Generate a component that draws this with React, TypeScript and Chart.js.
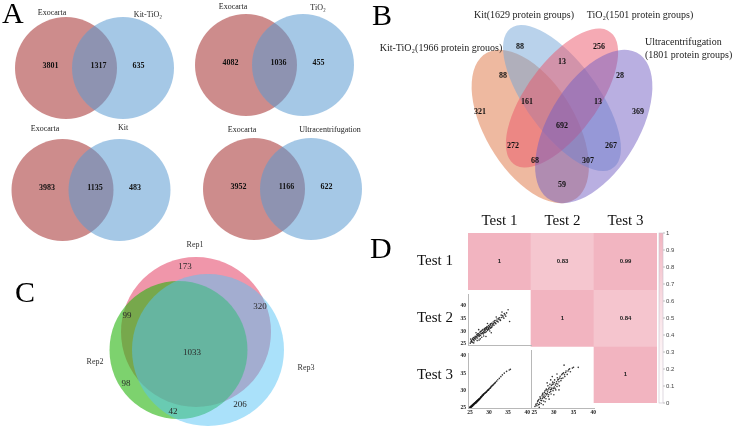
import React, { useEffect, useRef } from "react";
import { Chart, registerables } from "chart.js";

Chart.register(...registerables);

/* ======================= DATA ======================= */
// A — each method compared with Exocarta
const pairLeftNames = ["Exocarta", "Exocarta", "Exocarta", "Exocarta"];
const pairRightNames = ["Kit-TiO₂", "TiO₂", "Kit", "Ultracentrifugation"];
const pairLeftOnly = [3801, 4082, 3983, 3952];
const pairShared = [1317, 1036, 1135, 1166];
const pairRightOnly = [635, 455, 483, 622];

// B — four isolation methods
const quadSetNames = [
  "Kit-TiO₂(1966 protein grouos)",
  "Kit(1629 protein groups)",
  "TiO₂(1501 protein groups)",
  "Ultracentrifugation\n(1801 protein groups)",
];
const quadRegions = ["A", "B", "C", "D", "AB", "BC", "CD", "AD", "AC", "BD", "ABC", "BCD", "ACD", "ABD", "ABCD"];
const quadCounts = [321, 88, 256, 369, 88, 13, 28, 59, 272, 267, 161, 13, 68, 307, 692];

// C — replicates
const repSetNames = ["Rep1", "Rep2", "Rep3"];
const repRegions = ["1", "12", "13", "123", "2", "23", "3"];
const repCounts = [173, 99, 320, 1033, 98, 42, 206];

// D — correlation between tests
const testNames = ["Test 1", "Test 2", "Test 3"];
const corrTest1 = [1, 0.83, 0.99];
const corrTest2 = [0.83, 1, 0.84];
const corrTest3 = [0.99, 0.84, 1];
const colorbarTicks = [0, 0.1, 0.2, 0.3, 0.4, 0.5, 0.6, 0.7, 0.8, 0.9, 1];
const scatterTicks = [25, 30, 35, 40];

// [Test 1, Test 2]
const test1VsTest2 = [
  [25.1, 25.3], [25.3, 25.9], [25.4, 26.4], [25.6, 25.6], [25.8, 26.8], [25.9, 27.5], [26.1, 26.2], [26.2, 27.1], [26.4, 28.0], [26.5, 26.9],
  [26.7, 27.8], [26.8, 28.6], [27.0, 27.3], [27.1, 28.3], [27.2, 29.1], [27.4, 27.9], [27.5, 28.8], [27.6, 29.6], [27.8, 28.4], [27.9, 29.2],
  [28.0, 30.1], [28.1, 27.6], [28.3, 29.5], [28.4, 30.6], [28.5, 28.9], [28.7, 30.0], [28.8, 31.0], [28.9, 29.4], [29.0, 30.4], [29.1, 31.3],
  [29.3, 29.8], [29.4, 30.9], [29.5, 31.8], [29.6, 30.3], [29.8, 31.4], [29.9, 32.2], [30.0, 30.8], [30.1, 31.9], [30.3, 32.6], [30.4, 31.2],
  [30.5, 32.3], [30.7, 33.1], [30.8, 31.7], [31.0, 32.8], [31.1, 33.6], [31.3, 32.3], [31.5, 33.4], [31.6, 34.2], [31.8, 32.9], [32.0, 34.0],
  [32.1, 34.8], [32.4, 33.6], [32.6, 34.6], [32.8, 35.3], [33.0, 34.2], [33.3, 35.4], [33.6, 36.1], [33.9, 35.1], [34.2, 36.4], [34.6, 37.2],
  [35.0, 38.4], [35.4, 33.8], [29.2, 27.9], [30.6, 29.4], [27.3, 30.6], [26.0, 25.4], [26.9, 26.3], [27.7, 27.0], [31.9, 35.6], [33.4, 37.5],
  [25.5, 26.0], [25.7, 27.0], [26.0, 26.6], [26.3, 27.6], [26.6, 27.4], [26.9, 28.1], [27.0, 28.9], [27.3, 28.5], [27.6, 28.2], [27.8, 29.9],
  [28.0, 29.0], [28.2, 30.4], [28.4, 29.2], [28.6, 29.7], [28.8, 30.5], [29.0, 29.6], [29.2, 30.8], [29.4, 31.5], [29.7, 30.6], [29.9, 31.0],
  [30.2, 31.6], [30.4, 32.9], [30.6, 31.5], [30.9, 32.4], [31.2, 32.9], [31.4, 34.0], [31.7, 33.2], [32.2, 33.9], [32.5, 35.1], [32.9, 34.5],
  [33.2, 36.3], [33.7, 35.6], [34.0, 36.9], [34.4, 35.9], [27.4, 26.5], [28.6, 28.1], [30.2, 30.1], [25.2, 26.9], [26.6, 29.4], [29.6, 33.0],
];
// [Test 1, Test 3]
const test1VsTest3 = [
  [25.0, 25.1], [25.1, 25.0], [25.2, 25.4], [25.2, 25.0], [25.3, 25.2], [25.4, 25.6], [25.5, 25.4], [25.6, 25.8], [25.6, 25.5], [25.7, 25.6],
  [25.8, 26.0], [25.9, 25.9], [26.0, 26.2], [26.1, 26.0], [26.1, 26.3], [26.2, 26.4], [26.3, 26.3], [26.4, 26.6], [26.5, 26.5], [26.6, 26.8],
  [26.6, 26.4], [26.7, 26.7], [26.8, 27.0], [26.9, 26.9], [27.0, 27.2], [27.0, 26.9], [27.1, 27.1], [27.2, 27.4], [27.3, 27.3], [27.4, 27.6],
  [27.5, 27.5], [27.5, 27.7], [27.6, 27.8], [27.7, 27.8], [27.8, 28.1], [27.9, 28.0], [28.0, 28.3], [28.2, 28.4], [28.3, 28.7], [28.5, 28.7],
  [28.6, 29.0], [28.8, 29.1], [29.0, 29.3], [29.2, 29.6], [29.4, 29.7], [29.6, 30.0], [29.8, 30.2], [30.0, 30.4], [30.3, 30.7], [30.5, 31.0],
  [30.8, 31.3], [31.1, 31.6], [31.4, 32.0], [31.7, 32.4], [32.0, 32.7], [32.3, 33.1], [32.7, 33.5], [33.1, 34.0], [33.5, 34.5], [34.0, 35.0],
  [34.6, 35.5], [35.3, 35.9], [35.6, 36.1],
  [25.0, 25.3], [25.1, 25.2], [25.3, 25.5], [25.4, 25.3], [25.5, 25.7], [25.7, 25.9], [25.8, 25.7], [25.9, 26.1], [26.0, 25.9], [26.2, 26.2],
  [26.3, 26.5], [26.4, 26.3], [26.5, 26.7], [26.7, 26.9], [26.8, 26.7], [26.9, 27.1], [27.1, 27.3], [27.2, 27.2], [27.3, 27.5], [27.4, 27.4],
  [27.6, 27.6], [27.8, 27.9], [27.9, 28.2], [28.1, 28.2], [28.2, 28.6], [28.4, 28.6], [28.5, 28.9], [28.7, 29.0], [28.9, 29.3], [29.1, 29.4],
  [29.3, 29.5], [29.5, 29.9], [29.7, 30.1], [29.9, 30.2], [30.1, 30.6], [30.4, 30.8], [30.6, 31.2], [30.9, 31.5], [31.2, 31.8], [31.6, 32.2],
];
// [Test 2, Test 3]
const test2VsTest3 = [
  [25.2, 25.4], [25.5, 26.1], [25.7, 25.6], [25.9, 26.8], [26.1, 25.9], [26.2, 27.3], [26.4, 26.5], [26.5, 28.0], [26.7, 27.1], [26.8, 26.2],
  [27.0, 28.3], [27.1, 27.6], [27.2, 29.0], [27.4, 26.9], [27.5, 28.5], [27.6, 27.8], [27.7, 29.6], [27.9, 28.9], [28.0, 27.5], [28.1, 30.1],
  [28.2, 28.6], [28.4, 29.4], [28.5, 31.0], [28.6, 28.1], [28.7, 30.3], [28.9, 29.2], [29.0, 31.4], [29.1, 30.0], [29.3, 28.8], [29.4, 31.1],
  [29.5, 30.4], [29.7, 32.0], [29.8, 29.7], [29.9, 31.5], [30.1, 30.7], [30.2, 32.6], [30.4, 31.2], [30.5, 29.9], [30.7, 32.1], [30.9, 33.2],
  [31.0, 31.5], [31.2, 32.8], [31.4, 31.0], [31.6, 33.6], [31.8, 32.4], [32.0, 34.0], [32.3, 33.1], [32.5, 34.5], [32.8, 33.5], [33.1, 35.0],
  [33.4, 34.1], [33.8, 35.4], [34.2, 34.8], [34.7, 35.8], [35.0, 36.0], [36.2, 36.0], [32.6, 36.6], [29.6, 33.5], [31.3, 29.9], [26.3, 25.2],
  [27.8, 26.7], [28.8, 27.4], [30.0, 28.6],
  [25.4, 25.8], [25.8, 26.3], [26.0, 27.0], [26.3, 26.0], [26.6, 27.6], [26.9, 27.0], [27.1, 28.7], [27.3, 28.0], [27.6, 29.2], [27.8, 28.2],
  [28.0, 29.8], [28.3, 28.9], [28.5, 29.9], [28.7, 28.6], [29.0, 30.6], [29.2, 29.5], [29.4, 30.1], [29.6, 31.4], [29.9, 30.3], [30.1, 31.9],
  [30.3, 30.3], [30.6, 31.6], [30.8, 30.8], [31.0, 32.6], [31.3, 32.1], [31.5, 33.1], [31.9, 33.0], [32.2, 34.3], [32.7, 34.0], [33.0, 34.6],
  [33.6, 35.0], [34.0, 35.6], [29.2, 32.6], [27.3, 25.9], [30.8, 34.2], [28.3, 31.8],
];

/* ======================= LAYOUT / STYLE ======================= */
const W = 732;
const H = 427;
const SERIF = '"Liberation Serif", "Times New Roman", serif';
const SANS = '"Liberation Sans", Arial, sans-serif';

const panelLetters = [
  { text: "A", x: 2, y: 23 },
  { text: "B", x: 372, y: 25 },
  { text: "C", x: 15, y: 302 },
  { text: "D", x: 370, y: 258 },
];

const pairLayout = [
  { cx: 94.5, cy: 68, lx: 52, ly: 13, rx: 148, ry: 15 },
  { cx: 274.5, cy: 65, lx: 233, ly: 7, rx: 318, ry: 8 },
  { cx: 91, cy: 190, lx: 45, ly: 129, rx: 123, ry: 128 },
  { cx: 282.5, cy: 189, lx: 242, ly: 130, rx: 330, ry: 130 },
];
const pairR = 51;
const pairHalfGap = 28.5;
const pairNumDx = [-44, 4, 44];
const pairNumDy = -2;
const pairColors = ["rgba(155,25,25,0.5)", "rgba(91,155,209,0.55)"];

const quadFrame = { x0: 562, y0: 117, sx: 219, sy: 271 };
const quadEllipses = [
  { x: 0.355, y: 0.465, a: 0.34, b: 0.19, rot: 132, color: "rgba(221,115,65,0.5)" },
  { x: 0.5, y: 0.57, a: 0.35, b: 0.15, rot: 135, color: "rgba(115,165,215,0.5)" },
  { x: 0.5, y: 0.57, a: 0.33, b: 0.15, rot: 45, color: "rgba(235,85,105,0.5)" },
  { x: 0.645, y: 0.465, a: 0.34, b: 0.19, rot: 48, color: "rgba(115,95,195,0.5)" },
];
const quadNumPos = [
  [0.126, 0.518], [0.308, 0.758], [0.669, 0.758], [0.847, 0.518], [0.231, 0.651], [0.5, 0.703], [0.765, 0.651],
  [0.5, 0.249], [0.276, 0.393], [0.724, 0.393], [0.34, 0.555], [0.664, 0.555], [0.377, 0.338], [0.619, 0.338], [0.5, 0.467],
];
const quadSetLabelPos = [
  { x: 441, y: 48, align: "center" },
  { x: 524, y: 15, align: "center" },
  { x: 640, y: 15, align: "center" },
  { x: 645, y: 42, align: "left" },
];

const repCircles = [
  { x: 196, y: 332, r: 75, color: "rgba(230,80,113,0.6)" },
  { x: 178.5, y: 350, r: 69, color: "rgba(38,180,13,0.6)" },
  { x: 208, y: 350, r: 76, color: "rgba(85,195,245,0.5)" },
];
const repSetLabelPos = [[195, 245], [95, 362], [306, 368]];
const repNumPos = [[185, 267], [127, 316], [260, 307], [192, 353], [126, 384], [173, 412], [240, 405]];

const heatBox = { left: 400, top: 200, width: 300, height: 227, axisTop: 33, axisLeft: 68, padRight: 43, padBottom: 19 };
const plotL = heatBox.left + heatBox.axisLeft;
const plotT = heatBox.top + heatBox.axisTop;
const plotR = heatBox.left + heatBox.width - heatBox.padRight;
const plotB = heatBox.top + heatBox.height - heatBox.padBottom;
const cellW = (plotR - plotL) / 3;
const cellH = (plotB - plotT) / 3;
const pinkMax = [242, 180, 192];
const colRanges = [[24.5, 41], [24.2, 40.2]];
const rowRanges = [null, [24.3, 44.5], [25, 40.7]];

const scatterCells = [
  { data: test1VsTest2, row: 1, col: 0, showX: false, showY: true },
  { data: test1VsTest3, row: 2, col: 0, showX: true, showY: true },
  { data: test2VsTest3, row: 2, col: 1, showX: true, showY: false },
];

function corrColor(v: number) {
  const t = Math.pow(Math.max(0, Math.min(1, v)), 1.5);
  const c = pinkMax.map((p) => Math.round(255 + (p - 255) * t));
  return `rgb(${c[0]},${c[1]},${c[2]})`;
}

function txt(ctx: any, s: string, x: number, y: number, font: string, color = "#111", align = "center", baseline = "middle") {
  ctx.save();
  ctx.font = font;
  ctx.fillStyle = color;
  ctx.textAlign = align;
  ctx.textBaseline = baseline;
  ctx.fillText(s, x, y);
  ctx.restore();
}

/* ======================= FIGURE (A, B, C) ======================= */
const qx = (u: number) => quadFrame.x0 + quadFrame.sx * (u - 0.5);
const qy = (v: number) => quadFrame.y0 - quadFrame.sy * (v - 0.5);

const figurePlugin = {
  id: "figureLayer",
  afterDatasetsDraw(chart: any) {
    const ctx = chart.ctx;
    const xs = chart.scales.x;
    const ys = chart.scales.y;
    const kx = xs.getPixelForValue(qx(1)) - xs.getPixelForValue(qx(0));
    const ky = ys.getPixelForValue(qy(0)) - ys.getPixelForValue(qy(1));
    quadEllipses.forEach((e) => {
      ctx.save();
      ctx.translate(xs.getPixelForValue(qx(e.x)), ys.getPixelForValue(qy(e.y)));
      ctx.scale(kx, -ky);
      ctx.rotate((e.rot * Math.PI) / 180);
      ctx.beginPath();
      ctx.ellipse(0, 0, e.a, e.b, 0, 0, Math.PI * 2);
      ctx.fillStyle = e.color;
      ctx.fill();
      ctx.restore();
    });
  },
  afterDraw(chart: any) {
    const ctx = chart.ctx;
    const xs = chart.scales.x;
    const ys = chart.scales.y;
    const X = (v: number) => xs.getPixelForValue(v);
    const Y = (v: number) => ys.getPixelForValue(v);

    panelLetters.forEach((p) => txt(ctx, p.text, X(p.x), Y(p.y), `30px ${SERIF}`, "#000", "left", "alphabetic"));

    // A
    pairLayout.forEach((p, i) => {
      txt(ctx, pairLeftNames[i], X(p.lx), Y(p.ly), `8px ${SERIF}`, "#222");
      txt(ctx, pairRightNames[i], X(p.rx), Y(p.ry), `8px ${SERIF}`, "#222");
      const vals = [pairLeftOnly[i], pairShared[i], pairRightOnly[i]];
      vals.forEach((v, k) =>
        txt(ctx, String(v), X(p.cx + pairNumDx[k]), Y(p.cy + pairNumDy), `bold 8px ${SERIF}`, "#111")
      );
    });

    // B
    quadSetNames.forEach((name, i) => {
      const pos: any = quadSetLabelPos[i];
      name.split("\n").forEach((line, k) =>
        txt(ctx, line, X(pos.x), Y(pos.y + k * 13), `10px ${SERIF}`, "#222", pos.align)
      );
    });
    quadCounts.forEach((c, i) => {
      const [u, v] = quadNumPos[i];
      txt(ctx, String(c), X(qx(u)), Y(qy(v)), `bold 8px ${SERIF}`, "#111");
    });

    // C
    repSetNames.forEach((n, i) => txt(ctx, n, X(repSetLabelPos[i][0]), Y(repSetLabelPos[i][1]), `8px ${SERIF}`, "#333"));
    repCounts.forEach((c, i) => txt(ctx, String(c), X(repNumPos[i][0]), Y(repNumPos[i][1]), `9px ${SERIF}`, "#2a2a2a"));
  },
};

function figureConfig(): any {
  const datasets: any[] = [];
  pairLayout.forEach((p, i) => {
    datasets.push({ label: pairLeftNames[i], data: [{ x: p.cx - pairHalfGap, y: p.cy, r: pairR }], backgroundColor: pairColors[0] });
    datasets.push({ label: pairRightNames[i], data: [{ x: p.cx + pairHalfGap, y: p.cy, r: pairR }], backgroundColor: pairColors[1] });
  });
  repCircles.forEach((c, i) => {
    datasets.push({ label: repSetNames[i], data: [{ x: c.x, y: c.y, r: c.r }], backgroundColor: c.color });
  });
  datasets.forEach((d, i) => {
    d.order = -i;
    d.borderWidth = 0;
    d.clip = false;
  });
  return {
    type: "bubble",
    data: { datasets },
    options: {
      responsive: false,
      animation: false,
      devicePixelRatio: 1,
      events: [],
      layout: { padding: 0, autoPadding: false },
      scales: {
        x: { type: "linear", min: 0, max: W, display: false },
        y: { type: "linear", min: 0, max: H, reverse: true, display: false },
      },
      plugins: { legend: { display: false }, tooltip: { enabled: false } },
    },
    plugins: [figurePlugin],
  };
}

/* ======================= D: correlation heat map ======================= */
const corrRows = [corrTest1, corrTest2, corrTest3];

const heatPlugin = {
  id: "heatLayer",
  afterDatasetsDraw(chart: any) {
    const ctx = chart.ctx;
    corrRows.forEach((row, r) => {
      const meta = chart.getDatasetMeta(r);
      row.forEach((v, c) => {
        if (c < r) return;
        const el = meta.data[c];
        txt(ctx, String(v), el.x, (el.y + el.base) / 2, `bold 6px ${SANS}`, "#222");
      });
    });
  },
  afterDraw(chart: any) {
    const ctx = chart.ctx;
    const a = chart.chartArea;
    const x0 = a.right + 2;
    const bw = 4;
    const g = ctx.createLinearGradient(0, a.bottom, 0, a.top);
    colorbarTicks.forEach((t) => g.addColorStop(t, corrColor(t)));
    ctx.save();
    ctx.fillStyle = g;
    ctx.fillRect(x0, a.top, bw, a.bottom - a.top);
    ctx.strokeStyle = "#c9c0cc";
    ctx.lineWidth = 0.6;
    ctx.strokeRect(x0, a.top, bw, a.bottom - a.top);
    colorbarTicks.forEach((t) => {
      const y = a.bottom - t * (a.bottom - a.top);
      ctx.beginPath();
      ctx.moveTo(x0 + bw, y);
      ctx.lineTo(x0 + bw + 2, y);
      ctx.strokeStyle = "#999";
      ctx.stroke();
      txt(ctx, String(t), x0 + bw + 3, y, `6px ${SANS}`, "#444", "left");
    });
    ctx.restore();
  },
};

function heatConfig(): any {
  return {
    type: "bar",
    data: {
      labels: testNames,
      datasets: corrRows.map((row, r) => ({
        label: testNames[r],
        data: testNames.map(() => 1),
        backgroundColor: row.map((v, c) => (c >= r ? corrColor(v) : "rgba(0,0,0,0)")),
        borderWidth: 0,
        barPercentage: 1,
        categoryPercentage: 1,
      })),
    },
    options: {
      responsive: false,
      animation: false,
      devicePixelRatio: 1,
      events: [],
      layout: { padding: { left: 0, top: 0, right: heatBox.padRight, bottom: heatBox.padBottom }, autoPadding: false },
      plugins: { legend: { display: false }, tooltip: { enabled: false } },
      scales: {
        x: {
          type: "category",
          position: "top",
          stacked: true,
          grid: { display: false, drawTicks: false },
          border: { display: false },
          ticks: { font: { family: SERIF, size: 15 }, color: "#111", padding: 3, maxRotation: 0 },
          afterFit: (s: any) => {
            s.height = heatBox.axisTop;
          },
        },
        y: {
          type: "linear",
          min: 0,
          max: 3,
          reverse: true,
          stacked: true,
          grid: { display: false, drawTicks: false },
          border: { display: false },
          ticks: {
            font: { family: SERIF, size: 15 },
            color: "#111",
            padding: 15,
            callback: (v: any) => testNames[Math.floor(v)],
          },
          afterBuildTicks: (s: any) => {
            s.ticks = [0.5, 1.5, 2.5].map((v) => ({ value: v }));
          },
          afterFit: (s: any) => {
            s.width = heatBox.axisLeft;
          },
        },
      },
    },
    plugins: [heatPlugin],
  };
}

/* ======================= D: scatter cells ======================= */
function scatterGeom(cell: any) {
  const yW = cell.showY ? 14 : 2;
  const xH = cell.showX ? 9 : 2;
  const cl = plotL + cell.col * cellW;
  const ct = plotT + cell.row * cellH;
  const top = Math.round(ct) - 2;
  const left = Math.round(cl) - yW;
  const width = yW + Math.round(cellW) + 3;
  const height = 2 + Math.round(cellH) + xH;
  return { yW, xH, top, left, width, height };
}

function scatterConfig(cell: any): any {
  const g = scatterGeom(cell);
  const [xMin, xMax] = colRanges[cell.col];
  const [yMin, yMax] = rowRanges[cell.row] as number[];
  const tickFont = { family: SERIF, size: 5.5, weight: "bold" };
  return {
    type: "scatter",
    data: {
      datasets: [
        {
          data: cell.data.map(([x, y]: number[]) => ({ x, y })),
          pointRadius: 0.8,
          pointBackgroundColor: "rgba(20,20,20,0.85)",
          pointBorderWidth: 0,
        },
      ],
    },
    options: {
      responsive: false,
      animation: false,
      devicePixelRatio: 1,
      events: [],
      layout: { padding: { top: 2, right: 3, left: 0, bottom: 0 }, autoPadding: false },
      plugins: { legend: { display: false }, tooltip: { enabled: false } },
      scales: {
        x: {
          type: "linear",
          min: xMin,
          max: xMax,
          grid: { display: false, drawTicks: false },
          border: { display: true, color: "#b8b8b8", width: 1 },
          ticks: { display: cell.showX, font: tickFont, color: "#222", padding: 1, maxRotation: 0, autoSkip: false, includeBounds: false },
          afterBuildTicks: (s: any) => {
            s.ticks = scatterTicks.map((v) => ({ value: v }));
          },
          afterFit: (s: any) => {
            s.height = g.xH;
          },
        },
        y: {
          type: "linear",
          min: yMin,
          max: yMax,
          grid: { display: false, drawTicks: false },
          border: { display: true, color: "#b8b8b8", width: 1 },
          ticks: { display: cell.showY, font: tickFont, color: "#222", padding: 2, autoSkip: false, includeBounds: false },
          afterBuildTicks: (s: any) => {
            s.ticks = scatterTicks.map((v) => ({ value: v }));
          },
          afterFit: (s: any) => {
            s.width = g.yW;
          },
        },
      },
    },
  };
}

/* ======================= APP ======================= */
export default function App() {
  const figRef = useRef<HTMLCanvasElement>(null);
  const heatRef = useRef<HTMLCanvasElement>(null);
  const s0 = useRef<HTMLCanvasElement>(null);
  const s1 = useRef<HTMLCanvasElement>(null);
  const s2 = useRef<HTMLCanvasElement>(null);
  const scatterRefs = [s0, s1, s2];

  useEffect(() => {
    const charts: Chart[] = [];
    if (figRef.current) charts.push(new Chart(figRef.current, figureConfig()));
    if (heatRef.current) charts.push(new Chart(heatRef.current, heatConfig()));
    scatterCells.forEach((cell, i) => {
      const el = scatterRefs[i].current;
      if (el) charts.push(new Chart(el, scatterConfig(cell)));
    });
    return () => charts.forEach((c) => c.destroy());
  }, []);

  const abs = (l: number, t: number, w: number, h: number): any => ({
    position: "absolute",
    left: l,
    top: t,
    width: w,
    height: h,
  });

  return (
    <div style={{ position: "fixed", left: 0, top: 0, width: W, height: H, background: "#fff", overflow: "hidden" }}>
      <canvas ref={figRef} width={W} height={H} style={abs(0, 0, W, H)} />
      <canvas
        ref={heatRef}
        width={heatBox.width}
        height={heatBox.height}
        style={abs(heatBox.left, heatBox.top, heatBox.width, heatBox.height)}
      />
      {scatterCells.map((cell, i) => {
        const g = scatterGeom(cell);
        return <canvas key={i} ref={scatterRefs[i]} width={g.width} height={g.height} style={abs(g.left, g.top, g.width, g.height)} />;
      })}
    </div>
  );
}
